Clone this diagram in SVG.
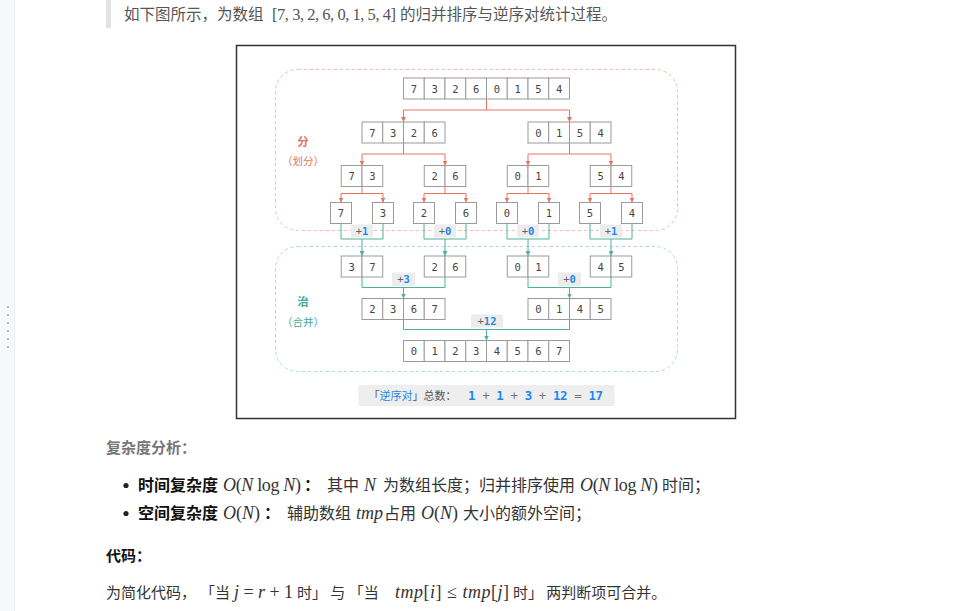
<svg xmlns="http://www.w3.org/2000/svg" width="959" height="611" viewBox="0 0 959 611">
<style>
.c{fill:#fff;stroke:#9a9a9a;stroke-width:1}
.d{font-family:"DejaVu Sans Mono",monospace;font-size:10.5px;fill:#444;text-anchor:middle}
.r{fill:none;stroke:#e8735e;stroke-width:1}
.t{fill:none;stroke:#4fb09b;stroke-width:1}
.lb{fill:#ececec}
.lt{font-family:"DejaVu Sans Mono",monospace;font-size:10.5px;fill:#666;text-anchor:middle}
.bl{fill:#1e88e5;font-weight:bold}
.cj{font-family:"Noto Sans CJK SC","Noto Sans",sans-serif}
.m{font-family:"Liberation Serif",serif;font-size:18px;fill:#333}
.i{font-style:italic}
</style>
<defs>
<marker id="ar" markerWidth="5" markerHeight="5" refX="5" refY="2.5" orient="auto" markerUnits="userSpaceOnUse"><path d="M0,0 L5,2.5 L0,5 z" fill="#e8735e"/></marker>
<marker id="at" markerWidth="5" markerHeight="5" refX="5" refY="2.5" orient="auto" markerUnits="userSpaceOnUse"><path d="M0,0 L5,2.5 L0,5 z" fill="#4fb09b"/></marker>
</defs>
<rect width="959" height="611" fill="#fff"/>
<g id="page">
<rect x="0" y="0" width="14" height="611" fill="#f7f8fa"/>
<line x1="14.5" y1="0" x2="14.5" y2="611" stroke="#eceef1"/>
<g fill="#b8b8b8"><rect x="7" y="306" width="2" height="2"/><rect x="7" y="314" width="2" height="2"/><rect x="7" y="322" width="2" height="2"/><rect x="7" y="330" width="2" height="2"/><rect x="7" y="338" width="2" height="2"/><rect x="7" y="346" width="2" height="2"/></g>
<rect x="106" y="0" width="5" height="28" fill="#e3e3e3"/>
<text class="cj" x="124" y="20" font-size="15.5" fill="#555">如下图所示，为数组</text>
<text x="272" y="20" font-family="Liberation Serif,serif" font-size="16.5" fill="#555" textLength="124" lengthAdjust="spacing">[7, 3, 2, 6, 0, 1, 5, 4]</text>
<text class="cj" x="400" y="20" font-size="15.5" fill="#555">的归并排序与逆序对统计过程。</text>
</g>
<rect x="236.5" y="45.5" width="499" height="373" fill="#fff" stroke="#333" stroke-width="1.5"/>
<rect x="275.5" y="69.5" width="402" height="161" rx="22" fill="none" stroke="#f5bfb3" stroke-dasharray="3.5 2.5"/>
<rect x="275.5" y="246.5" width="402" height="125" rx="22" fill="none" stroke="#b3dcd3" stroke-dasharray="3.5 2.5"/>
<g id="label-divide" class="cj" fill="#e5735d" text-anchor="middle">
<text x="303" y="146" font-size="11.5" font-weight="bold">分</text>
<text x="303" y="165" font-size="10.5">（划分）</text>
</g>
<g id="label-merge" class="cj" fill="#3fa99a" text-anchor="middle">
<text x="303" y="306" font-size="11.5" font-weight="bold">治</text>
<text x="303" y="326" font-size="10.5">（合并）</text>
</g>
<g id="connectors">
<path class="r" d="M486.5 99 V110 H403.5 V122" marker-end="url(#ar)"/>
<path class="r" d="M486.5 110 H569.5 V122" marker-end="url(#ar)"/>
<path class="r" d="M403.5 143 V154 H362 V165.5" marker-end="url(#ar)"/>
<path class="r" d="M403.5 154 H445 V165.5" marker-end="url(#ar)"/>
<path class="r" d="M569.5 143 V154 H528 V165.5" marker-end="url(#ar)"/>
<path class="r" d="M569.5 154 H611 V165.5" marker-end="url(#ar)"/>
<path class="r" d="M362 186.5 V193.5 H341 V202.5" marker-end="url(#ar)"/>
<path class="r" d="M362 193.5 H383 V202.5" marker-end="url(#ar)"/>
<path class="r" d="M445 186.5 V193.5 H424 V202.5" marker-end="url(#ar)"/>
<path class="r" d="M445 193.5 H466 V202.5" marker-end="url(#ar)"/>
<path class="r" d="M528 186.5 V193.5 H507 V202.5" marker-end="url(#ar)"/>
<path class="r" d="M528 193.5 H549 V202.5" marker-end="url(#ar)"/>
<path class="r" d="M611 186.5 V193.5 H590 V202.5" marker-end="url(#ar)"/>
<path class="r" d="M611 193.5 H632 V202.5" marker-end="url(#ar)"/>
<path class="t" d="M341 223.5 V239 H383 V223.5"/><path class="t" d="M362 239 V256" marker-end="url(#at)"/>
<path class="t" d="M424 223.5 V239 H466 V223.5"/><path class="t" d="M445 239 V256" marker-end="url(#at)"/>
<path class="t" d="M507 223.5 V239 H549 V223.5"/><path class="t" d="M528 239 V256" marker-end="url(#at)"/>
<path class="t" d="M590 223.5 V239 H632 V223.5"/><path class="t" d="M611 239 V256" marker-end="url(#at)"/>
<path class="t" d="M362 277 V287.5 H445 V277"/><path class="t" d="M403.5 287.5 V298.5" marker-end="url(#at)"/>
<path class="t" d="M528 277 V287.5 H611 V277"/><path class="t" d="M569.5 287.5 V298.5" marker-end="url(#at)"/>
<path class="t" d="M403.5 319.5 V329.5 H569.5 V319.5"/><path class="t" d="M486.5 329.5 V340.5" marker-end="url(#at)"/>
</g>
<g id="counts">
<rect class="lb" x="351" y="224.5" width="22" height="13"/><text class="lt" x="362" y="234.5">+<tspan class="bl">1</tspan></text>
<rect class="lb" x="434" y="224.5" width="22" height="13"/><text class="lt" x="445" y="234.5">+<tspan class="bl">0</tspan></text>
<rect class="lb" x="517" y="224.5" width="22" height="13"/><text class="lt" x="528" y="234.5">+<tspan class="bl">0</tspan></text>
<rect class="lb" x="600" y="224.5" width="22" height="13"/><text class="lt" x="611" y="234.5">+<tspan class="bl">1</tspan></text>
<rect class="lb" x="392" y="272.5" width="23" height="13.5"/><text class="lt" x="403.5" y="283">+<tspan class="bl">3</tspan></text>
<rect class="lb" x="558" y="272.5" width="23" height="13.5"/><text class="lt" x="569.5" y="283">+<tspan class="bl">0</tspan></text>
<rect class="lb" x="471" y="314.5" width="32" height="13"/><text class="lt" x="487" y="325">+<tspan class="bl">12</tspan></text>
</g>
<g id="n-73260154">
<rect class="c" x="403.5" y="78" width="20.75" height="21"/><rect class="c" x="424.25" y="78" width="20.75" height="21"/><rect class="c" x="445" y="78" width="20.75" height="21"/><rect class="c" x="465.75" y="78" width="20.75" height="21"/><rect class="c" x="486.5" y="78" width="20.75" height="21"/><rect class="c" x="507.25" y="78" width="20.75" height="21"/><rect class="c" x="528" y="78" width="20.75" height="21"/><rect class="c" x="548.75" y="78" width="20.75" height="21"/>
<text class="d" y="92.5"><tspan x="413.9">7</tspan><tspan x="434.6">3</tspan><tspan x="455.4">2</tspan><tspan x="476.1">6</tspan><tspan x="496.9">0</tspan><tspan x="517.6">1</tspan><tspan x="538.4">5</tspan><tspan x="559.1">4</tspan></text>
</g>
<g id="n-7326">
<rect class="c" x="362" y="122" width="20.75" height="21"/><rect class="c" x="382.75" y="122" width="20.75" height="21"/><rect class="c" x="403.5" y="122" width="20.75" height="21"/><rect class="c" x="424.25" y="122" width="20.75" height="21"/>
<text class="d" y="136.5"><tspan x="372.4">7</tspan><tspan x="393.1">3</tspan><tspan x="413.9">2</tspan><tspan x="434.6">6</tspan></text>
</g>
<g id="n-0154">
<rect class="c" x="528" y="122" width="20.75" height="21"/><rect class="c" x="548.75" y="122" width="20.75" height="21"/><rect class="c" x="569.5" y="122" width="20.75" height="21"/><rect class="c" x="590.25" y="122" width="20.75" height="21"/>
<text class="d" y="136.5"><tspan x="538.4">0</tspan><tspan x="559.1">1</tspan><tspan x="579.9">5</tspan><tspan x="600.6">4</tspan></text>
</g>
<g id="n-73"><rect class="c" x="341.25" y="165.5" width="20.75" height="21"/><rect class="c" x="362" y="165.5" width="20.75" height="21"/><text class="d" y="180"><tspan x="351.6">7</tspan><tspan x="372.4">3</tspan></text></g>
<g id="n-26"><rect class="c" x="424.25" y="165.5" width="20.75" height="21"/><rect class="c" x="445" y="165.5" width="20.75" height="21"/><text class="d" y="180"><tspan x="434.6">2</tspan><tspan x="455.4">6</tspan></text></g>
<g id="n-01"><rect class="c" x="507.25" y="165.5" width="20.75" height="21"/><rect class="c" x="528" y="165.5" width="20.75" height="21"/><text class="d" y="180"><tspan x="517.6">0</tspan><tspan x="538.4">1</tspan></text></g>
<g id="n-54"><rect class="c" x="590.25" y="165.5" width="20.75" height="21"/><rect class="c" x="611" y="165.5" width="20.75" height="21"/><text class="d" y="180"><tspan x="600.6">5</tspan><tspan x="621.4">4</tspan></text></g>
<g id="n-7"><rect class="c" x="330.5" y="202.5" width="21" height="21"/><text class="d" x="341" y="217">7</text></g>
<g id="n-3"><rect class="c" x="372.5" y="202.5" width="21" height="21"/><text class="d" x="383" y="217">3</text></g>
<g id="n-2"><rect class="c" x="413.5" y="202.5" width="21" height="21"/><text class="d" x="424" y="217">2</text></g>
<g id="n-6"><rect class="c" x="455.5" y="202.5" width="21" height="21"/><text class="d" x="466" y="217">6</text></g>
<g id="n-0"><rect class="c" x="496.5" y="202.5" width="21" height="21"/><text class="d" x="507" y="217">0</text></g>
<g id="n-1"><rect class="c" x="538.5" y="202.5" width="21" height="21"/><text class="d" x="549" y="217">1</text></g>
<g id="n-5"><rect class="c" x="579.5" y="202.5" width="21" height="21"/><text class="d" x="590" y="217">5</text></g>
<g id="n-4"><rect class="c" x="621.5" y="202.5" width="21" height="21"/><text class="d" x="632" y="217">4</text></g>
<g id="n-37"><rect class="c" x="341.25" y="256" width="20.75" height="21"/><rect class="c" x="362" y="256" width="20.75" height="21"/><text class="d" y="270.5"><tspan x="351.6">3</tspan><tspan x="372.4">7</tspan></text></g>
<g id="n-26m"><rect class="c" x="424.25" y="256" width="20.75" height="21"/><rect class="c" x="445" y="256" width="20.75" height="21"/><text class="d" y="270.5"><tspan x="434.6">2</tspan><tspan x="455.4">6</tspan></text></g>
<g id="n-01m"><rect class="c" x="507.25" y="256" width="20.75" height="21"/><rect class="c" x="528" y="256" width="20.75" height="21"/><text class="d" y="270.5"><tspan x="517.6">0</tspan><tspan x="538.4">1</tspan></text></g>
<g id="n-45"><rect class="c" x="590.25" y="256" width="20.75" height="21"/><rect class="c" x="611" y="256" width="20.75" height="21"/><text class="d" y="270.5"><tspan x="600.6">4</tspan><tspan x="621.4">5</tspan></text></g>
<g id="n-2367">
<rect class="c" x="362" y="298.5" width="20.75" height="21"/><rect class="c" x="382.75" y="298.5" width="20.75" height="21"/><rect class="c" x="403.5" y="298.5" width="20.75" height="21"/><rect class="c" x="424.25" y="298.5" width="20.75" height="21"/>
<text class="d" y="313"><tspan x="372.4">2</tspan><tspan x="393.1">3</tspan><tspan x="413.9">6</tspan><tspan x="434.6">7</tspan></text>
</g>
<g id="n-0145">
<rect class="c" x="528" y="298.5" width="20.75" height="21"/><rect class="c" x="548.75" y="298.5" width="20.75" height="21"/><rect class="c" x="569.5" y="298.5" width="20.75" height="21"/><rect class="c" x="590.25" y="298.5" width="20.75" height="21"/>
<text class="d" y="313"><tspan x="538.4">0</tspan><tspan x="559.1">1</tspan><tspan x="579.9">4</tspan><tspan x="600.6">5</tspan></text>
</g>
<g id="n-01234567">
<rect class="c" x="403.5" y="340.5" width="20.75" height="21"/><rect class="c" x="424.25" y="340.5" width="20.75" height="21"/><rect class="c" x="445" y="340.5" width="20.75" height="21"/><rect class="c" x="465.75" y="340.5" width="20.75" height="21"/><rect class="c" x="486.5" y="340.5" width="20.75" height="21"/><rect class="c" x="507.25" y="340.5" width="20.75" height="21"/><rect class="c" x="528" y="340.5" width="20.75" height="21"/><rect class="c" x="548.75" y="340.5" width="20.75" height="21"/>
<text class="d" y="355"><tspan x="413.9">0</tspan><tspan x="434.6">1</tspan><tspan x="455.4">2</tspan><tspan x="476.1">3</tspan><tspan x="496.9">4</tspan><tspan x="517.6">5</tspan><tspan x="538.4">6</tspan><tspan x="559.1">7</tspan></text>
</g>
<g id="summary">
<rect x="358.5" y="385" width="256" height="21" fill="#eeeeee"/>
<text class="cj" x="368.5" y="399.5" font-size="11" fill="#555">「<tspan fill="#1e88e5">逆序对</tspan>」总数：</text>
<text x="468" y="400" font-family="DejaVu Sans Mono,monospace" font-size="12.5" font-weight="bold" fill="#1e88e5" textLength="135" lengthAdjust="spacing">1 <tspan fill="#777" font-weight="normal">+</tspan> 1 <tspan fill="#777" font-weight="normal">+</tspan> 3 <tspan fill="#777" font-weight="normal">+</tspan> 12 <tspan fill="#777" font-weight="normal">=</tspan> 17</text>
</g>
<g id="body">
<text class="cj" x="106" y="453" font-size="15" font-weight="bold" fill="#777">复杂度分析：</text>
<circle cx="126" cy="485.5" r="2.6" fill="#222"/>
<text class="cj" x="138" y="491" font-size="16" font-weight="bold" fill="#111">时间复杂度</text>
<text class="m" x="223" y="491" textLength="78" lengthAdjust="spacing"><tspan class="i">O</tspan>(<tspan class="i">N</tspan> log <tspan class="i">N</tspan>)</text>
<text class="cj" x="304" y="491" font-size="16" font-weight="bold" fill="#111">：</text>
<text class="cj" x="327" y="491" font-size="16" fill="#333">其中</text>
<text class="m i" x="364" y="491">N</text>
<text class="cj" x="383" y="491" font-size="16" fill="#333">为数组长度；归并排序使用</text>
<text class="m" x="580" y="491" textLength="78" lengthAdjust="spacing"><tspan class="i">O</tspan>(<tspan class="i">N</tspan> log <tspan class="i">N</tspan>)</text>
<text class="cj" x="662" y="491" font-size="16" fill="#333">时间；</text>
<circle cx="126" cy="513.5" r="2.6" fill="#222"/>
<text class="cj" x="138" y="519" font-size="16" font-weight="bold" fill="#111">空间复杂度</text>
<text class="m" x="223" y="519"><tspan class="i">O</tspan>(<tspan class="i">N</tspan>)</text>
<text class="cj" x="264" y="519" font-size="16" font-weight="bold" fill="#111">：</text>
<text class="cj" x="287" y="519" font-size="16" fill="#333">辅助数组</text>
<text class="m i" x="356" y="519">tmp</text>
<text class="cj" x="384" y="519" font-size="16" fill="#333">占用</text>
<text class="m" x="421" y="519"><tspan class="i">O</tspan>(<tspan class="i">N</tspan>)</text>
<text class="cj" x="463" y="519" font-size="16" fill="#333">大小的额外空间；</text>
<text class="cj" x="106" y="561" font-size="15" font-weight="bold" fill="#111">代码：</text>
<text class="cj" x="106" y="597.5" font-size="15" fill="#333">为简化代码，</text>
<text class="cj" x="200" y="597.5" font-size="15" fill="#333">「当</text>
<text class="m" x="234" y="597.5" textLength="59" lengthAdjust="spacing"><tspan class="i">j</tspan> = <tspan class="i">r</tspan> + 1</text>
<text class="cj" x="297" y="597.5" font-size="15" fill="#333">时」 与 「当</text>
<text class="m" x="395" y="597.5" textLength="114" lengthAdjust="spacing"><tspan class="i">tmp</tspan>[<tspan class="i">i</tspan>] ≤ <tspan class="i">tmp</tspan>[<tspan class="i">j</tspan>]</text>
<text class="cj" x="513" y="597.5" font-size="15" fill="#333">时」 两判断项可合并。</text>
</g>
</svg>
